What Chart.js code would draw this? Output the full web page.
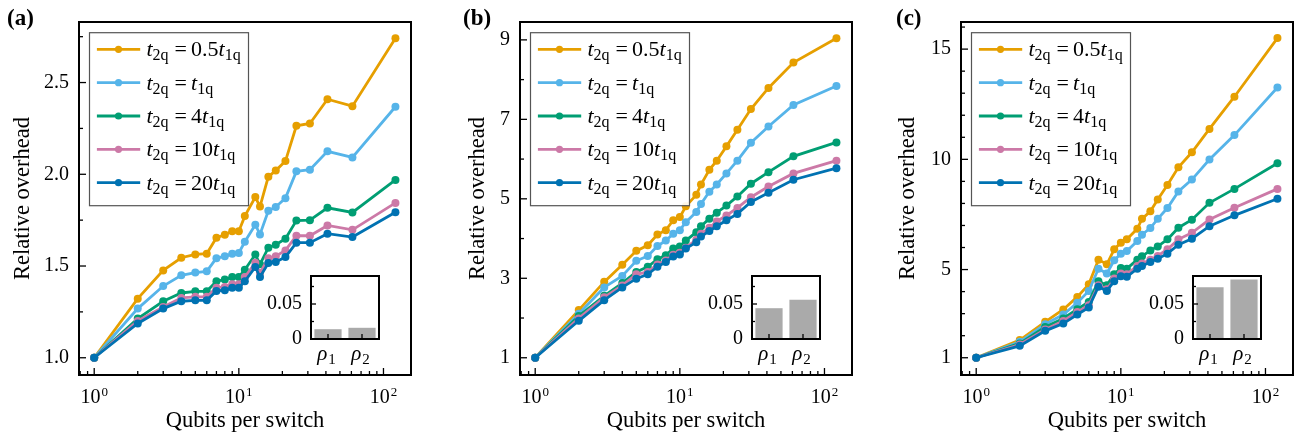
<!DOCTYPE html>
<html>
<head>
<meta charset="utf-8">
<script src="https://cdn.jsdelivr.net/npm/chart.js@4.4.1/dist/chart.umd.min.js"></script>
<style>
  html, body { margin: 0; padding: 0; background: #fff; }
  #wrap { position: relative; width: 1297px; height: 435px; overflow: hidden; }
  canvas { position: absolute; }
</style>
</head>
<body>
<div id="wrap">
  <canvas id="mainA" width="440" height="435" style="left:0px;top:0px"></canvas>
  <canvas id="mainB" width="440" height="435" style="left:440px;top:0px"></canvas>
  <canvas id="mainC" width="417" height="435" style="left:880px;top:0px"></canvas>
  <canvas id="insetA" width="125" height="115" style="left:260px;top:255px"></canvas>
  <canvas id="insetB" width="125" height="115" style="left:701px;top:255px"></canvas>
  <canvas id="insetC" width="125" height="115" style="left:1142px;top:255px"></canvas>
</div>
<script>
// ---- data ----
const qubits = [1, 2, 3, 4, 5, 6, 7, 8, 9, 10, 11, 13, 14, 16, 18, 21, 25, 31, 41, 61, 121];
const coeffs = ['0.5', '', '4', '10', '20'];
const colors = ['#E69F00', '#56B4E9', '#009E73', '#CC79A7', '#0072B2'];

// panel (a)
const overheadA05 = [1.0, 1.322, 1.476, 1.545, 1.563, 1.567, 1.654, 1.670, 1.690, 1.690, 1.772, 1.876, 1.824, 1.987, 2.020, 2.072, 2.264, 2.277, 2.409, 2.371, 2.741];
const overheadA1  = [1.0, 1.268, 1.391, 1.449, 1.464, 1.471, 1.543, 1.553, 1.567, 1.571, 1.632, 1.725, 1.672, 1.801, 1.822, 1.870, 2.016, 2.025, 2.125, 2.092, 2.368];
const overheadA4  = [1.0, 1.214, 1.308, 1.353, 1.362, 1.362, 1.417, 1.426, 1.440, 1.440, 1.480, 1.563, 1.509, 1.600, 1.616, 1.649, 1.748, 1.750, 1.817, 1.792, 1.969];
const overheadA10 = [1.0, 1.201, 1.277, 1.326, 1.332, 1.332, 1.382, 1.386, 1.400, 1.400, 1.440, 1.518, 1.462, 1.543, 1.553, 1.585, 1.665, 1.665, 1.721, 1.697, 1.844];
const overheadA20 = [1.0, 1.187, 1.268, 1.308, 1.313, 1.313, 1.364, 1.368, 1.382, 1.382, 1.417, 1.495, 1.440, 1.516, 1.522, 1.549, 1.627, 1.627, 1.676, 1.658, 1.793];

// panel (b)
const overheadB05 = [1, 2.20, 2.91, 3.34, 3.69, 3.83, 4.10, 4.21, 4.46, 4.54, 4.81, 5.10, 5.36, 5.73, 5.96, 6.32, 6.74, 7.26, 7.79, 8.43, 9.04];
const overheadB1  = [1, 2.11, 2.77, 3.06, 3.44, 3.56, 3.81, 3.95, 4.12, 4.21, 4.41, 4.67, 4.87, 5.18, 5.36, 5.64, 5.96, 6.41, 6.82, 7.36, 7.84];
const overheadB4  = [1, 2.05, 2.56, 2.88, 3.16, 3.29, 3.48, 3.58, 3.75, 3.80, 3.95, 4.16, 4.31, 4.50, 4.65, 4.83, 5.06, 5.38, 5.67, 6.07, 6.42];
const overheadB10 = [1, 1.99, 2.52, 2.82, 3.10, 3.16, 3.35, 3.45, 3.59, 3.64, 3.77, 3.97, 4.12, 4.27, 4.43, 4.58, 4.77, 5.04, 5.31, 5.64, 5.96];
const overheadB20 = [1, 1.93, 2.45, 2.77, 2.99, 3.10, 3.29, 3.41, 3.55, 3.60, 3.75, 3.91, 4.05, 4.19, 4.31, 4.46, 4.62, 4.92, 5.15, 5.48, 5.77];

// panel (c)
const overheadC05 = [1, 1.80, 2.63, 3.19, 3.76, 4.33, 5.45, 5.24, 5.92, 6.22, 6.37, 6.85, 7.30, 7.64, 8.18, 8.84, 9.64, 10.32, 11.38, 12.84, 15.5];
const overheadC1  = [1, 1.72, 2.52, 2.96, 3.49, 4.03, 5.04, 4.82, 5.42, 5.72, 5.84, 6.29, 6.58, 6.88, 7.30, 7.79, 8.54, 9.08, 9.99, 11.1, 13.26];
const overheadC4  = [1, 1.65, 2.40, 2.78, 3.20, 3.53, 4.47, 4.29, 4.79, 5.07, 5.04, 5.45, 5.60, 5.87, 6.05, 6.37, 6.90, 7.26, 8.03, 8.66, 9.82];
const overheadC10 = [1, 1.60, 2.28, 2.67, 3.08, 3.38, 4.29, 4.11, 4.59, 4.82, 4.79, 5.16, 5.27, 5.45, 5.62, 5.92, 6.37, 6.67, 7.27, 7.80, 8.66];
const overheadC20 = [1, 1.54, 2.22, 2.55, 2.96, 3.28, 4.22, 4.03, 4.47, 4.70, 4.67, 5.04, 5.16, 5.34, 5.49, 5.72, 6.13, 6.40, 6.97, 7.46, 8.21];

// insets
const rhoNames = ['1', '2'];
const rhoA = [0.014, 0.016];
const rhoB = [0.044, 0.056];
const rhoC = [0.074, 0.085];

// ticks
const xMajor = [1, 10, 100];
const xMinor = [0.8, 0.9, 2, 3, 4, 5, 6, 7, 8, 9, 20, 30, 40, 50, 60, 70, 80, 90];
const yTicksA = [1.0, 1.5, 2.0, 2.5];
const yMinorA = [1.25, 1.75, 2.25, 2.75];
const yTicksB = [1, 3, 5, 7, 9];
const yMinorB = [2, 4, 6, 8];
const yTicksC = [1, 5, 10, 15];
const yMinorC = [2, 3, 4, 6, 7, 8, 9, 11, 12, 13, 14, 16];
const insetTicks = [0, 0.05];
const insetMinor = [0.025, 0.075];

const SERIF = "'Liberation Serif', 'Times New Roman', serif";
Chart.defaults.font.family = SERIF;
Chart.defaults.color = '#000';

function drawTick(ctx, x, y, dx, dy) {
  ctx.beginPath();
  ctx.moveTo(x, y);
  ctx.lineTo(x + dx, y + dy);
  ctx.stroke();
}

function legendText(ctx, x, yBase, coeff) {
  let cx = x;
  const put = (txt, font, dy) => {
    ctx.font = font;
    ctx.fillText(txt, cx, yBase + dy);
    cx += ctx.measureText(txt).width;
  };
  put('t', 'italic 22px ' + SERIF, 0);
  put('2q', '16px ' + SERIF, 4);
  cx += 6;
  put('=', '22px ' + SERIF, 0);
  cx += 4;
  if (coeff) put(coeff, '22px ' + SERIF, 0);
  put('t', 'italic 22px ' + SERIF, 0);
  put('1q', '16px ' + SERIF, 4);
}

const mainDeco = {
  id: 'mainDeco',
  afterDraw(chart, args, o) {
    const ctx = chart.ctx, a = chart.chartArea;
    const xs = chart.scales.x, ys = chart.scales.y;
    ctx.save();
    ctx.strokeStyle = '#000';
    ctx.lineWidth = 1.3;
    xMajor.forEach(v => drawTick(ctx, xs.getPixelForValue(v), a.bottom, 0, -7));
    xMinor.forEach(v => drawTick(ctx, xs.getPixelForValue(v), a.bottom, 0, -4));
    o.yMajor.forEach(v => drawTick(ctx, a.left, ys.getPixelForValue(v), 7, 0));
    o.yMinor.forEach(v => {
      const py = ys.getPixelForValue(v);
      if (py > a.top + 2 && py < a.bottom - 2) drawTick(ctx, a.left, py, 4, 0);
    });
    ctx.lineWidth = 2;
    ctx.strokeRect(a.left, a.top, a.right - a.left, a.bottom - a.top);

    // 10^k tick labels
    ctx.fillStyle = '#000';
    ctx.textBaseline = 'alphabetic';
    ctx.textAlign = 'left';
    xMajor.forEach((v, k) => {
      const px = xs.getPixelForValue(v);
      ctx.font = '20px ' + SERIF;
      const w1 = ctx.measureText('10').width;
      ctx.font = '13px ' + SERIF;
      const w2 = ctx.measureText(String(k)).width;
      const x0 = px - (w1 + w2 + 1) / 2;
      ctx.font = '20px ' + SERIF;
      ctx.fillText('10', x0, 403);
      ctx.font = '13px ' + SERIF;
      ctx.fillText(String(k), x0 + w1 + 1, 396);
    });

    // legend
    const bx = a.left + 10.5, by = a.top + 10.7, bw = 159, bh = 173;
    ctx.fillStyle = 'rgba(255,255,255,0.9)';
    ctx.fillRect(bx, by, bw, bh);
    ctx.strokeStyle = '#555';
    ctx.lineWidth = 1.2;
    ctx.strokeRect(bx, by, bw, bh);
    coeffs.forEach((c, i) => {
      const ly = by + 16.6 + 33.35 * i;
      ctx.strokeStyle = colors[i];
      ctx.lineWidth = 2.8;
      ctx.beginPath();
      ctx.moveTo(bx + 7.4, ly);
      ctx.lineTo(bx + 50.7, ly);
      ctx.stroke();
      ctx.fillStyle = colors[i];
      ctx.beginPath();
      ctx.arc(bx + 29, ly, 3.6, 0, Math.PI * 2);
      ctx.fill();
      ctx.fillStyle = '#000';
      legendText(ctx, bx + 57, ly + 7, c);
    });

    // panel letter
    ctx.font = 'bold 23px ' + SERIF;
    ctx.fillStyle = '#000';
    ctx.fillText(o.letter, o.letterX, 25);
    ctx.restore();
  }
};

const insetDeco = {
  id: 'insetDeco',
  beforeDraw(chart) {
    const ctx = chart.ctx, a = chart.chartArea;
    ctx.save();
    ctx.fillStyle = '#fff';
    ctx.fillRect(a.left, a.top, a.right - a.left, a.bottom - a.top);
    ctx.restore();
  },
  afterDraw(chart) {
    const ctx = chart.ctx, a = chart.chartArea;
    const xs = chart.scales.x, ys = chart.scales.y;
    ctx.save();
    ctx.strokeStyle = '#000';
    ctx.lineWidth = 1.3;
    insetTicks.forEach(v => drawTick(ctx, a.left, ys.getPixelForValue(v), 5, 0));
    insetMinor.forEach(v => drawTick(ctx, a.left, ys.getPixelForValue(v), 3, 0));
    rhoNames.forEach((n, i) => drawTick(ctx, xs.getPixelForValue(i), a.bottom, 0, -5));
    ctx.lineWidth = 2;
    ctx.strokeRect(a.left, a.top, a.right - a.left, a.bottom - a.top);
    ctx.fillStyle = '#000';
    ctx.textBaseline = 'alphabetic';
    rhoNames.forEach((n, i) => {
      const px = xs.getPixelForValue(i);
      ctx.font = 'italic 21px ' + SERIF;
      const w1 = ctx.measureText('ρ').width;
      ctx.font = '15px ' + SERIF;
      const w2 = ctx.measureText(n).width;
      const x0 = px - (w1 + w2) / 2 - 2;
      ctx.font = 'italic 21px ' + SERIF;
      ctx.fillText('ρ', x0, 105);
      ctx.font = '15px ' + SERIF;
      ctx.fillText(n, x0 + w1 + 1, 108.5);
    });
    ctx.restore();
  }
};

function makeMain(id, series, yMin, yMax, yTicks, yMinor, fmt, axisLeft, rightPad, titlePad, letter, letterX) {
  new Chart(document.getElementById(id), {
    type: 'line',
    data: {
      datasets: series.map((vals, i) => ({
        data: qubits.map((q, k) => ({ x: q, y: vals[k] })),
        borderColor: colors[i],
        backgroundColor: colors[i],
        pointBackgroundColor: colors[i],
        borderWidth: 2.8,
        pointRadius: 4,
        pointBorderWidth: 0,
        tension: 0,
        order: series.length - i
      }))
    },
    options: {
      responsive: false,
      animation: false,
      events: [],
      devicePixelRatio: 1,
      layout: { padding: { left: 0, right: rightPad, top: 21, bottom: 0 } },
      plugins: { legend: { display: false }, tooltip: { enabled: false }, mainDeco: { yMajor: yTicks, yMinor: yMinor, letter: letter, letterX: letterX } },
      scales: {
        x: {
          type: 'logarithmic',
          min: 0.785,
          max: 155,
          grid: { display: false },
          border: { display: false },
          ticks: { display: false },
          title: { display: true, text: 'Qubits per switch', font: { size: 22.5, lineHeight: 1.2 }, padding: { top: 0, bottom: 0.5 } },
          afterFit: s => { s.height = 60; }
        },
        y: {
          min: yMin,
          max: yMax,
          grid: { display: false, drawTicks: false },
          border: { display: false },
          afterBuildTicks: s => { s.ticks = yTicks.map(v => ({ value: v })); },
          ticks: { font: { size: 20 }, padding: 10, callback: v => fmt(v) },
          title: { display: true, text: 'Relative overhead', font: { size: 22.5, lineHeight: 1.2 }, padding: { top: titlePad, bottom: 0 } },
          afterFit: s => { s.width = axisLeft; }
        }
      }
    },
    plugins: [mainDeco]
  });
}

function makeInset(id, values) {
  new Chart(document.getElementById(id), {
    type: 'bar',
    data: {
      labels: rhoNames,
      datasets: [{ data: values, backgroundColor: '#aaaaaa', borderWidth: 0, barPercentage: 0.8, categoryPercentage: 1.0 }]
    },
    options: {
      responsive: false,
      animation: false,
      events: [],
      devicePixelRatio: 1,
      layout: { padding: { left: 0, right: 6, top: 12, bottom: 0 } },
      plugins: { legend: { display: false }, tooltip: { enabled: false } },
      scales: {
        x: {
          grid: { display: false },
          border: { display: false },
          ticks: { display: false },
          afterFit: s => { s.height = 31; }
        },
        y: {
          min: 0,
          max: 0.09,
          grid: { display: false, drawTicks: false },
          border: { display: false },
          afterBuildTicks: s => { s.ticks = insetTicks.map(v => ({ value: v })); },
          ticks: { font: { size: 20 }, padding: 9, callback: v => (v === 0 ? '0' : '0.05') },
          afterFit: s => { s.width = 51; }
        }
      }
    },
    plugins: [insetDeco]
  });
}

makeMain('mainA', [overheadA05, overheadA1, overheadA4, overheadA10, overheadA20], 0.906, 2.83, yTicksA, yMinorA, v => v.toFixed(1), 79, 29, 9.5, '(a)', 7);
makeMain('mainB', [overheadB05, overheadB1, overheadB4, overheadB10, overheadB20], 0.566, 9.45, yTicksB, yMinorB, v => String(v), 80, 28, 25, '(b)', 23);
makeMain('mainC', [overheadC05, overheadC1, overheadC4, overheadC10, overheadC20], 0.217, 16.23, yTicksC, yMinorC, v => String(v), 81, 4, 15, '(c)', 16);
makeInset('insetA', rhoA);
makeInset('insetB', rhoB);
makeInset('insetC', rhoC);
</script>
</body>
</html>
